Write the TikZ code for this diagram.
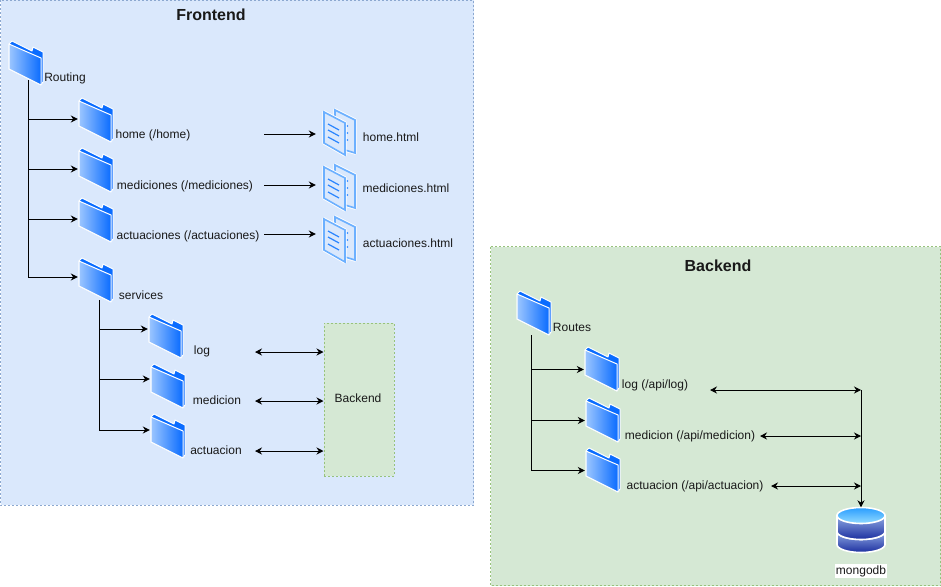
\documentclass[tikz,border=0pt]{standalone}
\usepackage{fontspec}
\setmainfont{Liberation Sans}
\usetikzlibrary{arrows.meta, calc, positioning}

\definecolor{frontfill}{HTML}{DAE8FC}
\definecolor{frontline}{HTML}{8CA8D0}
\definecolor{backfill}{HTML}{D5E8D4}
\definecolor{backline}{HTML}{97C27C}
\definecolor{folderlight}{HTML}{9CC6FF}
\definecolor{folderdark}{HTML}{0A6CFF}
\definecolor{docline}{HTML}{6CB0FF}
\definecolor{docmark}{HTML}{2A85FF}
\definecolor{dbtopa}{HTML}{2A9DFF}
\definecolor{dbtopb}{HTML}{93DBFF}
\definecolor{dbbanda}{HTML}{8FA9E4}
\definecolor{dbbandb}{HTML}{1C2F9F}

\tikzset{
  lbl/.style={font=\fontsize{12}{14}\selectfont, text=black!90, inner sep=0pt},
  titlelbl/.style={font=\fontsize{16}{19}\selectfont\bfseries, text=black!90, inner sep=0pt},
  areabox/.style={dash pattern=on 2pt off 2pt, line width=1pt},
  iconbox/.style={minimum width=36pt, minimum height=45pt, inner sep=0pt},
  docbox/.style={minimum width=32pt, minimum height=46pt, inner sep=0pt},
  conn/.style={->, black, line width=1pt},
  twoway/.style={<->, black, line width=1pt},
  pics/folder/.style={code={
    \draw[white, line width=1pt, fill=folderdark, line join=round]
      (-14,-22.5) -- (6,-12.5) -- (7,-16.5) -- (17,-11.5) -- (17,18.5) -- (15,21.5) -- (-17,5.5) -- (-17,-19.5) -- cycle;
    \draw[white, line width=1pt, left color=folderlight, right color=folderdark, line join=round]
      (-17,-19.5) -- (15,-5.5) -- (15,21.5) -- (-17,5.5) -- cycle;
  }},
  pics/doc/.style={code={
    \draw[white, line width=3.4pt, line join=round] (-5,-23) -- (15,-13) -- (15,20) -- (5,17) -- (-5,10) -- cycle;
    \draw[docline, line width=1.6pt, fill=frontfill] (-5,-23) -- (15,-13) -- (15,20) -- (5,17) -- (-5,10) -- cycle;
    \draw[white, line width=3.4pt, line join=round] (-16,-21) -- (5,-10) -- (5,22) -- (-16,10) -- cycle;
    \draw[docline, line width=1.6pt, fill=frontfill] (-16,-21) -- (5,-10) -- (5,22) -- (-16,10) -- cycle;
    \foreach \ya in {-9,-3,4} {
      \draw[docmark, line width=1.2pt] (-12,\ya) -- (-1,\ya+6);
    }
    \foreach \ya in {-7,0,7} {
      \fill[docmark] (7.5,\ya) circle (0.9);
    }
  }},
  pics/dbstack/.style={code={
    % lower and upper bands, then the lid
    \draw[white, line width=1.6pt, top color=dbbanda, bottom color=dbbandb]
      (-24,1) -- (-24,14) arc[start angle=180, end angle=0, x radius=24, y radius=8] -- (24,1) arc[start angle=0, end angle=180, x radius=24, y radius=8] -- cycle;
    \draw[white, line width=1.6pt, top color=dbbanda, bottom color=dbbandb]
      (-24,-15) -- (-24,1) arc[start angle=180, end angle=0, x radius=24, y radius=8] -- (24,-15) -- cycle;
    \draw[white, line width=1.6pt, top color=dbtopa, bottom color=dbtopb]
      (0,-15) ellipse [x radius=24, y radius=8];
  }}
}

\begin{document}
\begin{tikzpicture}[x=1pt, y=-1pt, >={Stealth[length=7pt, width=7pt]}]
    \useasboundingbox (0,0) rectangle (941,586);

    % Areas
    \draw[areabox, draw=frontline, fill=frontfill] (0.5,0.5) rectangle (473.5,505);
    \draw[areabox, draw=backline, fill=backfill] (490.5,246.5) rectangle (940.5,585.5);
    \node[areabox, draw=backline, fill=backfill, minimum width=70pt, minimum height=153pt, inner sep=0pt] (backendbox) at (359,399.5) {};

    % Titles
    \node[titlelbl] (frontendtitle) at (211,15) {Frontend};
    \node[titlelbl] (backendtitle) at (718,266) {Backend};
    \node[lbl] (backendlbl) at (358,398) {Backend};

    % Folders
    \foreach \n/\x/\y in {routing/26/63.5, home/96/120.5, mediciones/96/170.5, actuaciones/96/220.5, services/96/280.5,
        log/166/336.5, medicion/168/386.5, actuacion/168/436.5,
        routes/534/313.5, apilog/602/369.5, apimedicion/603/420.5, apiactuacion/603/470.5} {
      \node[iconbox] (\n) at (\x,\y) {};
      \pic at (\n) {folder};
    }

    % Pages
    \foreach \n/\x/\y in {homedoc/340/133, medicionesdoc/340/188, actuacionesdoc/340/240} {
      \node[docbox] (\n) at (\x,\y) {};
      \pic at (\n) {doc};
    }

    % Database
    \node[minimum width=50pt, minimum height=46pt, inner sep=0pt] (mongo) at (861,530.5) {};
    \pic at (mongo) {dbstack};
    \node[lbl, fill=white, inner sep=1pt] (mongolbl) at (861,571) {mongodb};

    % Labels
    \node[lbl] (routinglbl) at (65,78) {Routing};
    \node[lbl] (homelbl) at (153,135) {home (/home)};
    \node[lbl] (medicioneslbl) at (185,186) {mediciones (/mediciones)};
    \node[lbl] (actuacioneslbl) at (188,236) {actuaciones (/actuaciones)};
    \node[lbl] (serviceslbl) at (141,295) {services};
    \node[lbl] (loglbl) at (202,351) {log};
    \node[lbl] (medicionlbl) at (217,400) {medicion};
    \node[lbl] (actuacionlbl) at (216,450) {actuacion};
    \node[lbl] (homedoclbl) at (391,137) {home.html};
    \node[lbl] (medicionesdoclbl) at (406,188) {mediciones.html};
    \node[lbl] (actuacionesdoclbl) at (408,243) {actuaciones.html};
    \node[lbl] (routeslbl) at (572,327) {Routes};
    \node[lbl] (apiloglbl) at (655,385) {log (/api/log)};
    \node[lbl] (apimedicionlbl) at (690,436) {medicion (/api/medicion)};
    \node[lbl] (apiactuacionlbl) at (695,486) {actuacion (/api/actuacion)};

    % Free ends of the connectors
    \coordinate (routingfoot) at (28,80);
    \coordinate (servicesfoot) at (99,300);
    \coordinate (routesfoot) at (531,335);
    \coordinate (homeout) at (264,134);
    \coordinate (medicionesout) at (264,185);
    \coordinate (actuacionesout) at (264,234);
    \coordinate (logout) at (255,352);
    \coordinate (medicionout) at (255,401);
    \coordinate (actuacionout) at (255,451);
    \coordinate (apilogout) at (710,390);
    \coordinate (apimedicionout) at (760,436);
    \coordinate (apiactuacionout) at (771,486);
    \coordinate (dbline) at (861,390);

    % Folder tree
    \foreach \a/\b/\o in {routingfoot/home/1.5, routingfoot/mediciones/1.5, routingfoot/actuaciones/1.5, routingfoot/services/3.5,
        servicesfoot/log/7.5, servicesfoot/medicion/7.5, servicesfoot/actuacion/6.5,
        routesfoot/apilog/0, routesfoot/apimedicion/0, routesfoot/apiactuacion/0} {
      \draw[conn] (\a) |- ([yshift=\o pt]\b.west);
    }

    % Pages and services
    \foreach \a/\b in {homeout/homedoc, medicionesout/medicionesdoc, actuacionesout/actuacionesdoc} {
      \draw[conn, shorten >=8pt] (\a) -- (\a -| \b.west);
    }
    \foreach \a in {logout, medicionout, actuacionout} {
      \draw[twoway] (\a) -- (\a -| backendbox.west);
    }

    % Routes and database
    \draw[conn] (dbline) -- (mongo.north);
    \foreach \a in {apilogout, apimedicionout, apiactuacionout} {
      \draw[twoway] (\a) -- (\a -| dbline);
    }
\end{tikzpicture}
\end{document}
